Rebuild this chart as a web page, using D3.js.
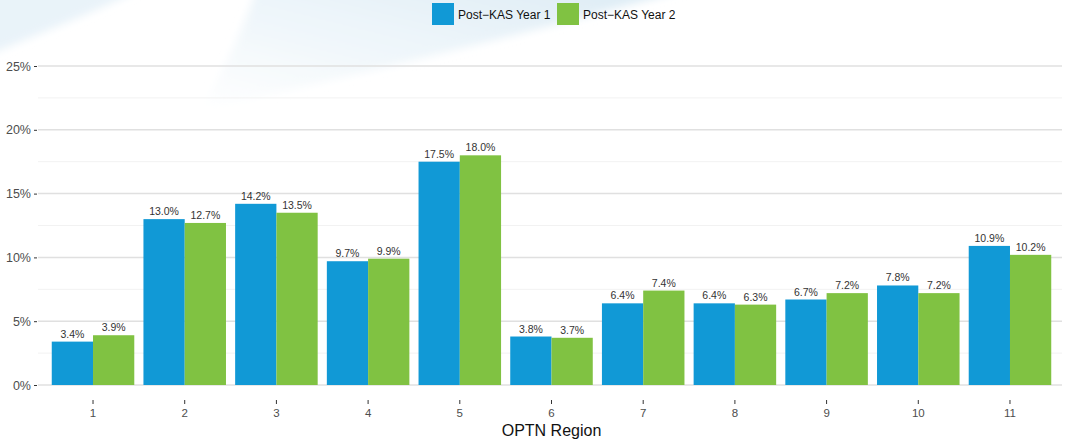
<!DOCTYPE html>
<html>
<head>
<meta charset="utf-8">
<script src="https://cdn.jsdelivr.net/npm/d3@7"></script>
<style>
  body { margin: 0; background: #fff; }
  svg { font-family: "Liberation Sans", Arial, sans-serif; display: block; }
</style>
</head>
<body>
<svg></svg>
<script>
// OPTN regions and share of transplants per year after KAS
const regions = ["1", "2", "3", "4", "5", "6", "7", "8", "9", "10", "11"];
const seriesNames = ["Post\u2212KAS Year 1", "Post\u2212KAS Year 2"];
const year1 = [3.4, 13.0, 14.2, 9.7, 17.5, 3.8, 6.4, 6.4, 6.7, 7.8, 10.9];
const year2 = [3.9, 12.7, 13.5, 9.9, 18.0, 3.7, 7.4, 6.3, 7.2, 7.2, 10.2];
const yTicks = [0, 5, 10, 15, 20, 25];
const colors = ["#1199d6", "#80c242"];

const width = 1066;
const height = 440;
const margin = ({top: 50, right: 1, bottom: 55, left: 38});

const data = regions.map((r, i) => ({region: r, values: [year1[i], year2[i]]}));

const svg = d3.select("svg")
    .attr("width", width)
    .attr("height", height)
    .attr("viewBox", [0, 0, width, height]);

//faint background swoosh in top left
const defs = svg.append("defs");
const grad = defs.append("linearGradient")
    .attr("id", "swoosh")
    .attr("x1", "0%").attr("y1", "100%")
    .attr("x2", "100%").attr("y2", "0%");
grad.append("stop").attr("offset", "0%").attr("stop-color", "#ffffff");
grad.append("stop").attr("offset", "100%").attr("stop-color", "#d9eaf4");
defs.append("filter")
    .attr("id", "soft")
    .append("feGaussianBlur")
    .attr("stdDeviation", 4);
const bg = svg.append("g").attr("filter", "url(#soft)");
bg.append("path")
    .attr("d", "M-20,-20 L160,-20 C110,5 50,30 -20,58 Z")
    .attr("fill", "#e9f3f9");
bg.append("path")
    .attr("d", "M260,-20 L720,-20 C560,25 380,70 200,110 C225,70 245,25 260,-20 Z")
    .attr("fill", "url(#swoosh)");

// scales
const y = d3.scaleLinear()
    .domain([0, 25])
    .range([385, 66]);

const x = d3.scaleBand()
    .domain(regions)
    .range([margin.left, width - margin.right])
    .paddingInner(0.1)
    .paddingOuter(0.15);

const xSub = d3.scaleBand()
    .domain([0, 1])
    .range([0, x.bandwidth()]);

// gridlines (major + minor)
const grid = svg.append("g");
const minorTicks = yTicks.slice(0, -1).map(t => t + 2.5);
grid.selectAll(".minor")
    .data(minorTicks)
    .join("line")
    .attr("x1", margin.left)
    .attr("x2", width - 4)
    .attr("y1", d => y(d))
    .attr("y2", d => y(d))
    .attr("stroke", "#f2f2f2")
    .attr("stroke-width", 1);
grid.selectAll(".major")
    .data(yTicks)
    .join("line")
    .attr("x1", margin.left)
    .attr("x2", width - 4)
    .attr("y1", d => y(d))
    .attr("y2", d => y(d))
    .attr("stroke", "#e0e0e0")
    .attr("stroke-width", 1.5);

// bars
const groups = svg.append("g")
    .selectAll("g")
    .data(data)
    .join("g")
    .attr("transform", d => `translate(${x(d.region)},0)`);

groups.selectAll("rect")
    .data(d => d.values.map((v, k) => ({v, k})))
    .join("rect")
    .attr("x", d => xSub(d.k))
    .attr("y", d => y(d.v))
    .attr("width", xSub.bandwidth())
    .attr("height", d => y(0) - y(d.v))
    .attr("fill", d => colors[d.k]);

groups.selectAll("text")
    .data(d => d.values.map((v, k) => ({v, k})))
    .join("text")
    .attr("x", d => xSub(d.k) + xSub.bandwidth() / 2)
    .attr("y", d => y(d.v) - 4)
    .attr("text-anchor", "middle")
    .attr("font-size", "10.5px")
    .attr("fill", "#333")
    .text(d => d.v.toFixed(1) + "%");

// y axis
const yAxis = g => g
    .attr("transform", `translate(${margin.left - 1},0)`)
    .call(d3.axisLeft(y).tickValues(yTicks).tickFormat(d => d + "%").tickSize(3).tickPadding(3))
    .call(g => g.select(".domain").remove())
    .call(g => g.selectAll(".tick line").attr("stroke", "#333"))
    .call(g => g.selectAll(".tick text").attr("fill", "#4d4d4d").attr("font-size", "12.5px")
        .attr("font-family", "Liberation Sans, Arial, sans-serif"));

svg.append("g").call(yAxis);

// x axis
const xAxis = g => g
    .attr("transform", `translate(0,${y(0) + 15})`)
    .call(d3.axisBottom(x).tickSize(4).tickPadding(5))
    .call(g => g.select(".domain").remove())
    .call(g => g.selectAll(".tick line").attr("stroke", "#333"))
    .call(g => g.selectAll(".tick text").attr("fill", "#4d4d4d").attr("font-size", "11.5px")
        .attr("font-family", "Liberation Sans, Arial, sans-serif"));

svg.append("g").call(xAxis);

svg.append("text")
    .attr("x", (margin.left + width - margin.right) / 2)
    .attr("y", 436)
    .attr("text-anchor", "middle")
    .attr("font-size", "16px")
    .attr("fill", "#111")
    .text("OPTN Region");

// legend
const legendX = [432, 557];
const legend = svg.append("g")
    .selectAll("g")
    .data(seriesNames)
    .join("g")
    .attr("transform", (d, i) => `translate(${legendX[i]},3)`);

legend.append("rect")
    .attr("width", 22)
    .attr("height", 22)
    .attr("fill", (d, i) => colors[i]);

legend.append("text")
    .attr("x", 26)
    .attr("y", 15.5)
    .attr("font-size", "12px")
    .attr("fill", "#111")
    .text(d => d);
</script>
</body>
</html>
